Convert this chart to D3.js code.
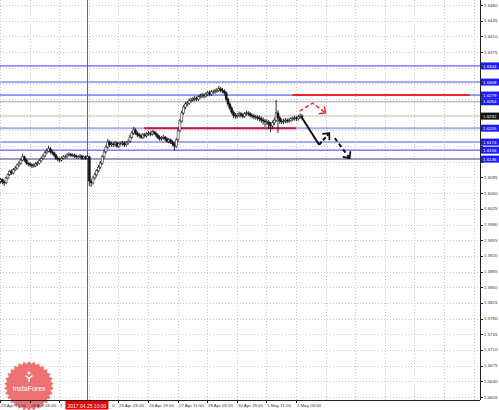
<!DOCTYPE html>
<html>
<head>
<meta charset="utf-8">
<script src="https://cdn.jsdelivr.net/npm/d3@7/dist/d3.min.js"></script>
<style>
  body { margin: 0; background: #fff; }
  svg { display: block; font-family: "Liberation Sans", Arial, sans-serif; }
</style>
</head>
<body>
<div class="chart"></div>
<script>
// H1 bars, GBPUSD-like
var firstOpen = 1.6087
var closes = [
  1.6090,1.6085,1.6083,1.6094,1.6101,1.6108,1.6105,1.6112,1.6116,1.6123,
  1.6127,1.6134,1.6141,1.6134,1.6127,1.6125,1.6123,1.6121,1.6121,1.6125,
  1.6127,1.6132,1.6138,1.6143,1.6150,1.6154,1.6159,1.6152,1.6150,1.6145,
  1.6138,1.6136,1.6134,1.6138,1.6141,1.6141,1.6145,1.6147,1.6145,1.6145,
  1.6143,1.6141,1.6141,1.6143,1.6138,1.6141,1.6138,1.6141,1.6087,1.6083,
  1.6094,1.6101,1.6110,1.6118,1.6127,1.6141,1.6152,1.6163,1.6174,1.6168,
  1.6170,1.6168,1.6172,1.6165,1.6170,1.6170,1.6172,1.6168,1.6172,1.6176,
  1.6185,1.6194,1.6201,1.6194,1.6190,1.6188,1.6185,1.6190,1.6188,1.6192,
  1.6194,1.6192,1.6197,1.6194,1.6190,1.6185,1.6181,1.6183,1.6185,1.6181,
  1.6176,1.6179,1.6174,1.6170,1.6165,1.6179,1.6199,1.6221,1.6239,1.6252,
  1.6259,1.6261,1.6266,1.6268,1.6270,1.6272,1.6270,1.6275,1.6277,1.6279,
  1.6277,1.6281,1.6284,1.6281,1.6286,1.6286,1.6288,1.6290,1.6293,1.6290,
  1.6288,1.6284,1.6270,1.6259,1.6250,1.6241,1.6234,1.6232,1.6234,1.6237,
  1.6234,1.6232,1.6237,1.6239,1.6237,1.6234,1.6232,1.6230,1.6230,1.6228,
  1.6226,1.6223,1.6221,1.6219,1.6219,1.6214,1.6210,1.6217,1.6223,1.6239,
  1.6228,1.6221,1.6219,1.6221,1.6223,1.6221,1.6223,1.6226,1.6226,1.6228,
  1.6226,1.6230,1.6232,1.6230
]
var highs = [
  1.6094,1.6093,1.6089,1.6097,1.6104,1.6112,1.6113,1.6116,1.6121,1.6126,
  1.6131,1.6138,1.6148,1.6144,1.6137,1.6130,1.6129,1.6127,1.6126,1.6129,
  1.6131,1.6136,1.6142,1.6147,1.6154,1.6160,1.6166,1.6163,1.6157,1.6153,
  1.6148,1.6142,1.6140,1.6142,1.6145,1.6146,1.6149,1.6151,1.6150,1.6149,
  1.6148,1.6146,1.6145,1.6147,1.6146,1.6144,1.6144,1.6146,1.6144,1.6092,
  1.6098,1.6106,1.6114,1.6123,1.6132,1.6145,1.6157,1.6168,1.6181,1.6178,
  1.6175,1.6174,1.6176,1.6175,1.6174,1.6175,1.6177,1.6176,1.6176,1.6180,
  1.6190,1.6199,1.6208,1.6205,1.6198,1.6195,1.6193,1.6194,1.6195,1.6196,
  1.6199,1.6198,1.6201,1.6200,1.6198,1.6193,1.6189,1.6187,1.6190,1.6188,
  1.6185,1.6183,1.6182,1.6178,1.6174,1.6183,1.6204,1.6226,1.6244,1.6257,
  1.6264,1.6266,1.6271,1.6273,1.6275,1.6277,1.6276,1.6279,1.6282,1.6284,
  1.6283,1.6285,1.6288,1.6289,1.6290,1.6291,1.6293,1.6295,1.6299,1.6297,
  1.6295,1.6292,1.6287,1.6273,1.6263,1.6254,1.6245,1.6239,1.6239,1.6242,
  1.6241,1.6239,1.6241,1.6244,1.6243,1.6241,1.6238,1.6237,1.6235,1.6234,
  1.6233,1.6231,1.6229,1.6226,1.6225,1.6223,1.6219,1.6222,1.6229,1.6268,
  1.6245,1.6233,1.6227,1.6226,1.6228,1.6227,1.6228,1.6230,1.6231,1.6233,
  1.6232,1.6235,1.6238,1.6237
]
var lows = [
  1.6082,1.6080,1.6076,1.6080,1.6090,1.6098,1.6101,1.6102,1.6109,1.6113,
  1.6119,1.6124,1.6131,1.6130,1.6123,1.6120,1.6118,1.6116,1.6117,1.6118,
  1.6121,1.6124,1.6129,1.6135,1.6140,1.6147,1.6151,1.6148,1.6145,1.6141,
  1.6134,1.6131,1.6129,1.6131,1.6135,1.6137,1.6138,1.6142,1.6141,1.6141,
  1.6139,1.6137,1.6137,1.6138,1.6134,1.6135,1.6134,1.6135,1.6076,1.6074,
  1.6079,1.6090,1.6097,1.6106,1.6114,1.6123,1.6137,1.6148,1.6159,1.6163,
  1.6164,1.6163,1.6164,1.6161,1.6161,1.6166,1.6166,1.6163,1.6164,1.6168,
  1.6172,1.6181,1.6190,1.6190,1.6185,1.6183,1.6181,1.6181,1.6184,1.6184,
  1.6188,1.6187,1.6188,1.6190,1.6186,1.6181,1.6177,1.6177,1.6179,1.6176,
  1.6172,1.6171,1.6170,1.6165,1.6154,1.6161,1.6175,1.6195,1.6217,1.6235,
  1.6247,1.6254,1.6257,1.6262,1.6264,1.6265,1.6265,1.6266,1.6271,1.6272,
  1.6272,1.6273,1.6277,1.6276,1.6277,1.6281,1.6282,1.6284,1.6286,1.6285,
  1.6283,1.6278,1.6265,1.6254,1.6245,1.6236,1.6228,1.6226,1.6227,1.6229,
  1.6229,1.6227,1.6228,1.6233,1.6232,1.6229,1.6227,1.6225,1.6224,1.6222,
  1.6220,1.6217,1.6213,1.6208,1.6212,1.6203,1.6196,1.6204,1.6212,1.6219,
  1.6194,1.6215,1.6214,1.6214,1.6216,1.6216,1.6217,1.6219,1.6221,1.6222,
  1.6221,1.6222,1.6226,1.6225
]

var timeTickBars = [0, 16, 32, 48, 64, 80, 96, 112, 128, 144, 160]
var timeTickLabels = ['23 Apr 15:00','24 Apr 03:00','24 Apr 19:00','25 Apr 11:00','26 Apr 03:00',
  '26 Apr 19:00','27 Apr 11:00','28 Apr 03:00','30 Apr 19:00','1 May 11:00','2 May 03:00']
var priceTickLabels = ['1.6480','1.6445','1.6410','1.6375','1.6340','1.6305','1.6270','1.6235',
  '1.6200','1.6165','1.6130','1.6095','1.6060','1.6025','1.5990','1.5955','1.5920','1.5885',
  '1.5850','1.5815','1.5780','1.5745','1.5710','1.5675','1.5640','1.5605']

// horizontal levels drawn on the chart
var levels = [1.6344, 1.6308, 1.6279, 1.6264, 1.6205, 1.6174, 1.6156, 1.6136]
var levelKinds = ['blue', 'lavender', 'blue', 'grey', 'lavender', 'lavender', 'blue', 'slate']
var lastPrice = 1.6232

var markerBar = 47
var markerLabel = '2017.04.25 10:00'
var supportSpan = [78, 160], supportPrice = 1.6205
var targetSpan = [158, 254], targetPrice = 1.6279
var bullPath = [[162, 1.6243], [169, 1.6261], [176, 1.6239]]
var bearLeg1 = [[163, 1.6230], [172.5, 1.6168]]
var bearLeg2 = [[172.5, 1.6168], [178, 1.6194]]
var bearLeg3 = [[181, 1.6183], [189, 1.6138]]

var width = 499, height = 410
var plotR = 480, plotB = 400

var svg = d3.select('.chart').append('svg')
    .attr('width', width)
    .attr('height', height)

var x = d3.scaleLinear().domain([0, 259.5]).range([0, plotR])
var y = d3.scaleLinear().domain([1.5605, 1.6480]).range([397, 5])

var kindStyle = {
  blue:     { stroke: '#3a3aff', w: 1 },
  lavender: { stroke: '#a9a9f3', w: 2 },
  grey:     { stroke: '#a0a0b4', w: 1 },
  slate:    { stroke: '#7c7ca6', w: 1.5 }
}

// grid
var grid = svg.append('g')
grid.selectAll('.hg').data(priceTickLabels).enter().append('line')
    .attr('x1', 0).attr('x2', plotR)
    .attr('y1', function(d){ return Math.round(y(+d)) + 0.5 })
    .attr('y2', function(d){ return Math.round(y(+d)) + 0.5 })
    .attr('stroke', '#c9c9c9').attr('stroke-dasharray', '1,2')
grid.selectAll('.vg').data(d3.range(0, 260, 16)).enter().append('line')
    .attr('y1', 0).attr('y2', plotB)
    .attr('x1', function(d){ return Math.round(x(d)) + 0.5 })
    .attr('x2', function(d){ return Math.round(x(d)) + 0.5 })
    .attr('stroke', '#c9c9c9').attr('stroke-dasharray', '1,2')

// watermark
function starPath(cx, cy, r1, r2, n){
  var pts = []
  for (var k = 0; k < n * 2; k++){
    var a = Math.PI * k / n
    var r = k % 2 ? r2 : r1
    pts.push([cx + r * Math.sin(a), cy - r * Math.cos(a)])
  }
  return 'M' + pts.join('L') + 'Z'
}
var badge = svg.append('g').attr('opacity', 0.78)
badge.append('path').attr('d', starPath(29, 386, 25, 22, 30)).attr('fill', '#ea4b4b')
badge.append('circle').attr('cx', 29).attr('cy', 373).attr('r', 1.6).attr('fill', '#fff')
badge.append('path').attr('d', 'M25.5,375.5 L29,378.5 L32.5,375.5 M29,378.5 L29,382')
    .attr('stroke', '#fff').attr('stroke-width', 1.6).attr('fill', 'none')
badge.append('text').attr('x', 29).attr('y', 391).attr('text-anchor', 'middle')
    .attr('font-size', 7).attr('fill', '#fff').text('InstaForex')

// levels
svg.selectAll('.lvl').data(levels).enter().append('line')
    .attr('x1', 0).attr('x2', plotR)
    .attr('y1', function(d){ return y(d) }).attr('y2', function(d){ return y(d) })
    .attr('stroke', function(d, i){ return kindStyle[levelKinds[i]].stroke })
    .attr('stroke-width', function(d, i){ return kindStyle[levelKinds[i]].w })
svg.append('line')
    .attr('x1', 0).attr('x2', plotR)
    .attr('y1', y(lastPrice)).attr('y2', y(lastPrice))
    .attr('stroke', '#c4c4c4').attr('stroke-width', 1)

// vertical marker
svg.append('line')
    .attr('x1', Math.round(x(markerBar)) + 0.5).attr('x2', Math.round(x(markerBar)) + 0.5)
    .attr('y1', 0).attr('y2', plotB)
    .attr('stroke', '#d23a3a').attr('stroke-width', 1)

// red segments
svg.append('line')
    .attr('x1', x(supportSpan[0])).attr('x2', x(supportSpan[1]))
    .attr('y1', y(supportPrice)).attr('y2', y(supportPrice))
    .attr('stroke', '#c8163f').attr('stroke-width', 2)
svg.append('line')
    .attr('x1', x(targetSpan[0])).attr('x2', x(targetSpan[1]))
    .attr('y1', y(targetPrice)).attr('y2', y(targetPrice))
    .attr('stroke', '#f02525').attr('stroke-width', 2)

// candles
var bars = closes.map(function(c, i){
  return { i: i, o: i ? closes[i - 1] : firstOpen, h: highs[i], l: lows[i], c: c }
})
var cg = svg.append('g')
cg.selectAll('.wick').data(bars).enter().append('line')
    .attr('x1', function(d){ return x(d.i) + 0.5 }).attr('x2', function(d){ return x(d.i) + 0.5 })
    .attr('y1', function(d){ return y(d.h) }).attr('y2', function(d){ return y(d.l) })
    .attr('stroke', '#111').attr('stroke-width', 0.9)
cg.selectAll('.body').data(bars).enter().append('rect')
    .attr('x', function(d){ return x(d.i) - 0.5 })
    .attr('width', 2)
    .attr('y', function(d){ return y(Math.max(d.o, d.c)) })
    .attr('height', function(d){ return Math.max(0.8, Math.abs(y(d.o) - y(d.c))) })
    .attr('fill', function(d){ return d.c >= d.o ? '#fff' : '#111' })
    .attr('stroke', '#111').attr('stroke-width', 0.5)

// forecast arrows
var line = d3.line().x(function(d){ return x(d[0]) }).y(function(d){ return y(d[1]) })
function arrowHead(seg, color, w){
  var a = seg[seg.length - 2], b = seg[seg.length - 1]
  var x1 = x(a[0]), y1 = y(a[1]), x2 = x(b[0]), y2 = y(b[1])
  var ang = Math.atan2(y1 - y2, x1 - x2)
  var len = 7
  var p1 = [x2 + len * Math.cos(ang + 0.75), y2 + len * Math.sin(ang + 0.75)]
  var p2 = [x2 + len * Math.cos(ang - 0.75), y2 + len * Math.sin(ang - 0.75)]
  svg.append('path').attr('d', 'M' + p1 + 'L' + [x2, y2] + 'L' + p2)
      .attr('fill', 'none').attr('stroke', color).attr('stroke-width', w)
}
svg.append('path').attr('d', line(bullPath))
    .attr('fill', 'none').attr('stroke', '#f03030').attr('stroke-width', 1.5)
    .attr('stroke-dasharray', '4,2.5')
arrowHead(bullPath, '#f03030', 1.5)
svg.append('path').attr('d', line(bearLeg1))
    .attr('fill', 'none').attr('stroke', '#111').attr('stroke-width', 2)
svg.append('path').attr('d', line(bearLeg2))
    .attr('fill', 'none').attr('stroke', '#111').attr('stroke-width', 2)
    .attr('stroke-dasharray', '4,2')
arrowHead(bearLeg2, '#111', 1.8)
svg.append('path').attr('d', line(bearLeg3))
    .attr('fill', 'none').attr('stroke', '#111').attr('stroke-width', 2)
    .attr('stroke-dasharray', '4,3')
arrowHead(bearLeg3, '#111', 1.8)

// axes
svg.append('line').attr('x1', plotR + 0.5).attr('x2', plotR + 0.5).attr('y1', 0).attr('y2', plotB)
    .attr('stroke', '#222')
svg.append('line').attr('x1', 0).attr('x2', plotR).attr('y1', plotB + 0.5).attr('y2', plotB + 0.5)
    .attr('stroke', '#222')

var boxYs = levels.map(y).concat([y(lastPrice)])
var py = svg.append('g')
priceTickLabels.forEach(function(t){
  var yy = y(+t)
  py.append('line').attr('x1', plotR).attr('x2', plotR + 3)
      .attr('y1', Math.round(yy) + 0.5).attr('y2', Math.round(yy) + 0.5).attr('stroke', '#222')
  var hidden = boxYs.some(function(b){ return Math.abs(b - yy) < 6 })
  if (!hidden) {
    py.append('text').attr('x', plotR + 4).attr('y', yy + 1.5)
        .attr('font-size', 4.4).attr('fill', '#333').text(t)
  }
})
levels.forEach(function(v){
  py.append('rect').attr('x', plotR + 1).attr('y', y(v) - 3.5).attr('width', 18).attr('height', 7)
      .attr('fill', '#1c1cf0')
  py.append('text').attr('x', plotR + 3).attr('y', y(v) + 1.6)
      .attr('font-size', 4.4).attr('fill', '#fff').text(v.toFixed(4))
})
py.append('rect').attr('x', plotR + 1).attr('y', y(lastPrice) - 3.5).attr('width', 18).attr('height', 7)
    .attr('fill', '#111')
py.append('text').attr('x', plotR + 3).attr('y', y(lastPrice) + 1.6)
    .attr('font-size', 4.4).attr('fill', '#fff').text(lastPrice.toFixed(4))

// time axis; labels under the marker box are cut like in the terminal
var mx = x(markerBar)
var boxL = mx - 21.5, boxR = mx + 21.5
var tx = svg.append('g')
timeTickBars.forEach(function(b, k){
  var xx = Math.round(x(b)) + 0.5
  tx.append('line').attr('x1', xx).attr('x2', xx).attr('y1', plotB).attr('y2', plotB + 3).attr('stroke', '#222')
  var label = timeTickLabels[k]
  var t = tx.append('text').attr('x', xx + 0.5).attr('y', 407)
      .attr('font-size', 4.4).attr('fill', '#333').text(label)
  var tx0 = xx + 0.5, w = t.node().getComputedTextLength()
  if (tx0 < boxL && tx0 + w > boxL - 1) {
    var n = label.length
    while (n > 1 && tx0 + t.node().getSubStringLength(0, n) > boxL - 1.5) n--
    t.text(label.slice(0, n).trim())
  } else if (tx0 >= boxL && tx0 < boxR + 1) {
    var s = 0
    while (s < label.length - 1 && tx0 + t.node().getSubStringLength(0, s) < boxR + 1.5) s++
    var off = t.node().getSubStringLength(0, s)
    t.attr('x', tx0 + off).text(label.slice(s))
  }
})
tx.append('rect').attr('x', boxL).attr('y', 401).attr('width', 43).attr('height', 8.5).attr('fill', '#ee0000')
tx.append('text').attr('x', mx).attr('y', 407.5).attr('text-anchor', 'middle')
    .attr('font-size', 5).attr('fill', '#fff').text(markerLabel)
</script>
</body>
</html>
